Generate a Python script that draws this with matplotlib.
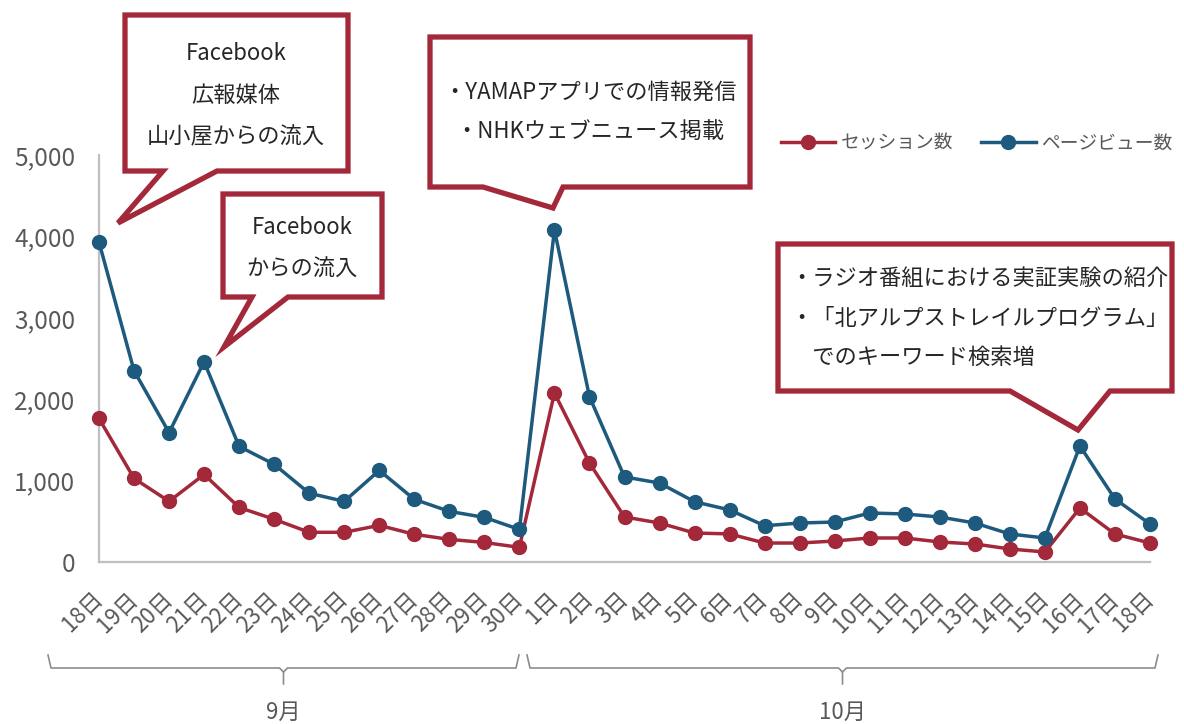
import matplotlib
matplotlib.use("Agg")
import matplotlib.pyplot as plt
from matplotlib.patches import Polygon
from matplotlib.lines import Line2D
from matplotlib.ticker import FuncFormatter

plt.rcParams['font.family'] = ['Noto Sans CJK JP', 'DejaVu Sans']

# ---------------- data ----------------
dates = ['18日', '19日', '20日', '21日', '22日', '23日', '24日', '25日', '26日', '27日',
         '28日', '29日', '30日',
         '1日', '2日', '3日', '4日', '5日', '6日', '7日', '8日', '9日', '10日', '11日',
         '12日', '13日', '14日', '15日', '16日', '17日', '18日']
sessions = [1763, 1027, 745, 1075, 670, 525, 365, 365, 450, 340, 278, 240, 180,
            2076, 1216, 553, 479, 356, 345, 233, 233, 258, 295, 295, 246, 221, 160, 123,
            663, 344, 233]
pageviews = [3930, 2350, 1590, 2460, 1420, 1200, 845, 745, 1125, 770, 622, 548, 400,
             4080, 2030, 1045, 970, 740, 640, 445, 479, 491, 602, 590, 553, 479, 344, 295,
             1425, 774, 467]
series_names = ['セッション数', 'ページビュー数']
months = ['9月', '10月']
yticks = [0, 1000, 2000, 3000, 4000, 5000]

callout1 = ['Facebook', '広報媒体', '山小屋からの流入']
callout2 = ['Facebook', 'からの流入']
callout3 = ['・YAMAPアプリでの情報発信', '・NHKウェブニュース掲載']
callout4 = ['・ラジオ番組における実証実験の紹介', '・「北アルプストレイルプログラム」', '　でのキーワード検索増']

RED = '#A2283A'
BLUE = '#1D5A7E'
GRAY = '#595959'
AXC = '#BFBFBF'

W, H = 1184, 724
fig = plt.figure(figsize=(W / 100, H / 100), dpi=100)


def px(x, y):
    return (x / W, 1 - y / H)


ax = fig.add_axes([99 / W, (H - 562) / H, (1150 - 99) / W, (562 - 155) / H])
x = list(range(len(dates)))
ax.plot(x, sessions, color=RED, lw=2.5, marker='o', ms=10, clip_on=False, zorder=3,
        label=series_names[0])
ax.plot(x, pageviews, color=BLUE, lw=2.5, marker='o', ms=10, clip_on=False, zorder=3,
        label=series_names[1])
ax.set_xlim(0, len(dates) - 1)
ax.set_ylim(0, 5000)
ax.set_yticks(yticks)
ax.yaxis.set_major_formatter(FuncFormatter(lambda v, p: f'{int(v):,}'))
ax.set_xticks(x)
ax.set_xticklabels(dates)
for s in ['top', 'right']:
    ax.spines[s].set_visible(False)
for s in ['left', 'bottom']:
    ax.spines[s].set_color(AXC)
    ax.spines[s].set_linewidth(1.6)
ax.tick_params(axis='y', length=0, pad=17, labelsize=17.5, labelcolor=GRAY)
ax.tick_params(axis='x', length=0, pad=24, labelsize=16, labelcolor=GRAY)
plt.setp(ax.get_xticklabels(), rotation=45, ha='right', va='center', rotation_mode='anchor')

leg = ax.legend(loc='upper right', bbox_to_anchor=px(1180, 125), bbox_transform=fig.transFigure,
                ncol=2, frameon=False, fontsize=13.5, handlelength=2.9, columnspacing=1.5,
                handletextpad=0.3, borderaxespad=0)
for t in leg.get_texts():
    t.set_color(GRAY)

# ---------------- month brackets ----------------
def bracket(x0, x1, label):
    xc = (x0 + x1) / 2
    pts = [px(x0, 655), px(x0 + 3, 668), px(xc - 4, 668), px(xc, 672), px(xc, 684)]
    pts2 = [px(x1, 655), px(x1 - 3, 668), px(xc + 4, 668), px(xc, 672)]
    for p in (pts, pts2):
        fig.add_artist(Line2D([a for a, b in p], [b for a, b in p], color='#8C8C8C', lw=1.2,
                              transform=fig.transFigure))
    fig.text(*px(xc, 712), label, ha='center', va='center', fontsize=16, color=GRAY)


bracket(48, 519, months[0])
bracket(527, 1158, months[1])

# ---------------- callouts ----------------
def callout(box, tail, lines, centers_y, cx=None, left_x=None, fs=16):
    x0, y0, x1, y1 = box
    bl, br, tx, ty = tail
    verts = [(x0, y0), (x1, y0), (x1, y1), (br, y1), (tx, ty), (bl, y1), (x0, y1)]
    poly = Polygon([px(a, b) for a, b in verts], closed=True, facecolor='white',
                   edgecolor=RED, lw=3.8, joinstyle='miter', transform=fig.transFigure,
                   zorder=5)
    fig.add_artist(poly)
    for i, (t, yy) in enumerate(zip(lines, centers_y)):
        if left_x is None:
            fig.text(*px(cx, yy), t, ha='center', va='center', fontsize=fs,
                     color='#262626', zorder=6)
        else:
            fig.text(*px(left_x, yy), t, ha='left', va='center', fontsize=fs,
                     color='#262626', zorder=6)


callout((125, 15, 348, 171), (163, 217, 118, 223), callout1, [53, 95, 137], cx=236)
callout((223, 194, 382, 297), (252, 288, 224, 347), callout2, [228, 269], cx=302)
callout((430, 37, 750, 187), (483, 563, 553, 208), callout3, [92, 132], cx=590)
callout((778, 244, 1172, 391), (1010, 1110, 1078, 430), callout4, [278, 318, 357], left_x=790)

fig.savefig('out.png', dpi=100)
